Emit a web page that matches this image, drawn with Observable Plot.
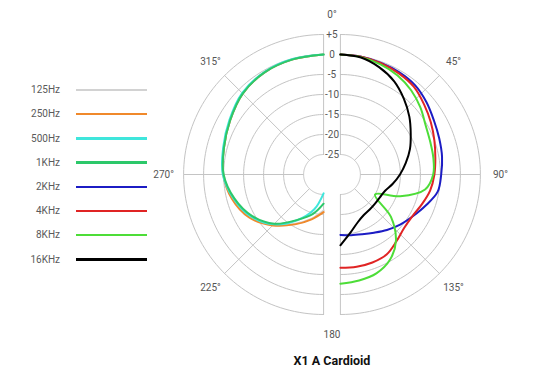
<!DOCTYPE html>
<html><head><meta charset="utf-8">
<script src="https://cdn.jsdelivr.net/npm/d3@7"></script>
<script src="https://cdn.jsdelivr.net/npm/@observablehq/plot@0.6"></script>
<style>
body{margin:0;background:#fff;font-family:Roboto,"Noto Sans",sans-serif;}
#wrap{position:relative;width:550px;}
.lg-label{position:absolute;left:0;width:60px;text-align:right;font-size:10px;color:#5a5a5a;line-height:14px;}
.lg-line{position:absolute;left:76px;width:71px;height:2.5px;}
#title{margin-left:232px;width:200px;text-align:center;font-weight:bold;font-size:12.5px;line-height:32px;color:#111;}
</style></head><body>
<div id="wrap"></div>
<div id="title">X1 A Cardioid</div>
<script>
const series = ["125Hz","250Hz","500Hz","1KHz","2KHz","4KHz","8KHz","16KHz"];
const colors = ["#d2d2d2","#f0892b","#3fe6dc","#2cc86a","#1c1cc4","#e02424","#4ddd38","#000000"];

// left half (low frequencies), angle in degrees clockwise from top
const leftAngles = [180,195,210,225,240,255,270,285,300,315,330,345,360];
const db125 = [-21.0,-18.6,-15.8,-12.2,-8.7,-6.5,-5.0,-4.2,-3.0,-1.4,-0.5,-0.2,0];
const db250 = [-20.6,-18.4,-15.6,-12.0,-8.5,-6.3,-4.9,-4.2,-3.0,-1.4,-0.5,-0.2,0];
const db500 = [-25.3,-21.0,-16.8,-12.4,-9.0,-6.7,-4.8,-4.0,-2.8,-1.2,-0.4,-0.1,0];
const db1k  = [-22.7,-19.8,-16.9,-12.6,-9.3,-6.9,-5.0,-4.2,-3.0,-1.4,-0.5,-0.2,0];

// right half (high frequencies)
const rightAngles = [0,10,20,30,40,50,60,70,80,90,100,110,120,130,140,150,160,170,180];
const db2k  = [0,-0.1,-0.3,-0.5,-0.9,-1.9,-3.0,-3.7,-4.2,-4.8,-5.3,-7.3,-9.1,-10.5,-11.9,-13.2,-14.1,-14.6,-14.9];
const db4k  = [0,-0.1,-0.4,-0.8,-1.4,-2.7,-3.9,-5.0,-5.9,-6.5,-7.2,-8.3,-9.2,-9.2,-8.2,-6.9,-6.6,-6.6,-6.7];
const db8k  = [0,-0.2,-0.7,-1.4,-2.5,-3.9,-5.4,-6.1,-6.4,-6.8,-8.5,-14.1,-20,-13.5,-8.4,-5.3,-3.7,-3.1,-2.7];
const db16k = [0,-0.3,-1.5,-3.1,-5.3,-7.5,-9.7,-11.5,-13.4,-15.1,-16.7,-18.1,-18.6,-18.7,-18.6,-18.3,-17.3,-15.3,-12.3];

const dbTicks = [5,0,-5,-10,-15,-20,-25];
const dbTickLabels = ["+5","0","-5","-10","-15","-20","-25"];
const angleTicks = [0,45,90,135,180,225,270,315];
const angleLabels = ["0°","45°","90°","135°","180","225°","270°","315°"];

const floorDb = -30, halfGap = 2.1, labelR = 40;
const rad = a => a * Math.PI / 180;
const cxOf = side => side === "L" ? -halfGap : halfGap;
const px = (side, a, r) => cxOf(side) + r * Math.sin(rad(a));
const py = (a, r) => r * Math.cos(rad(a));

const seriesData = [
  {name:"125Hz", side:"L", angles:leftAngles, db:db125},
  {name:"250Hz", side:"L", angles:leftAngles, db:db250},
  {name:"500Hz", side:"L", angles:leftAngles, db:db500},
  {name:"1KHz",  side:"L", angles:leftAngles, db:db1k},
  {name:"2KHz",  side:"R", angles:rightAngles, db:db2k},
  {name:"4KHz",  side:"R", angles:rightAngles, db:db4k},
  {name:"8KHz",  side:"R", angles:rightAngles, db:db8k},
  {name:"16KHz", side:"R", angles:rightAngles, db:db16k}
];

// grid rings (half arcs per side)
const rings = [];
for (const d of dbTicks) {
  const r = d - floorDb;
  for (const side of ["L","R"]) {
    const a0 = side === "L" ? 180 : 0;
    for (let a = a0; a <= a0 + 180; a += 2) rings.push({key: side + d, x: px(side, a, r), y: py(a, r)});
  }
}
// spokes
const rIn = -25 - floorDb, rOut = 5 - floorDb;
const spokes = [];
for (const side of ["L","R"]) {
  const base = side === "L" ? [180,225,270,315,360] : [0,45,90,135,180];
  for (const a of base) spokes.push({x1: px(side,a,rIn), y1: py(a,rIn), x2: px(side,a,rOut), y2: py(a,rOut)});
}
const tickData = dbTicks.map((d,i) => ({x: 0, y: d - floorDb, t: dbTickLabels[i]}));
const angleData = angleTicks.map((a,i) => {
  const side = (a === 0 || a === 180) ? null : (a < 180 ? "R" : "L");
  return {x: side ? px(side, a, labelR) : 0, y: py(a, labelR), t: angleLabels[i]};
});

const curveMarks = seriesData.map((s, i) => {
  const pts = s.angles.map((a, j) => ({x: px(s.side, a, s.db[j] - floorDb), y: py(a, s.db[j] - floorDb)}));
  return Plot.line(pts, {x: "x", y: "y", stroke: colors[series.indexOf(s.name)], strokeWidth: 2, curve: "catmull-rom"});
});

const W = 550, H = 345, CX = 331.5, CY = 174, K = 4;
const chart = Plot.plot({
  width: W, height: H, margin: 0,
  style: {fontFamily: "Roboto, 'Noto Sans', sans-serif", background: "transparent"},
  x: {domain: [-CX / K, (W - CX) / K], axis: null},
  y: {domain: [(CY - H) / K, CY / K], axis: null},
  marks: [
    Plot.line(rings, {x: "x", y: "y", z: "key", stroke: "#c4c4c4", strokeWidth: 1}),
    Plot.link(spokes, {x1: "x1", y1: "y1", x2: "x2", y2: "y2", stroke: "#c4c4c4", strokeWidth: 1}),
    ...curveMarks,
    Plot.text(tickData, {x: "x", y: "y", text: "t", fontSize: 10, fill: "#555"}),
    Plot.text(angleData, {x: "x", y: "y", text: "t", fontSize: 10, fill: "#555"})
  ]
});

const wrap = document.getElementById("wrap");
wrap.appendChild(chart);
const rowY = [90,114,138.5,162.5,187,211,235,259.5];
series.forEach((s, i) => {
  const lab = document.createElement("div");
  lab.className = "lg-label"; lab.textContent = s; lab.style.top = (rowY[i] - 7) + "px";
  wrap.appendChild(lab);
  const ln = document.createElement("div");
  ln.className = "lg-line"; ln.style.background = colors[i]; ln.style.top = (rowY[i] - 1.25) + "px";
  wrap.appendChild(ln);
});
</script>
</body></html>
